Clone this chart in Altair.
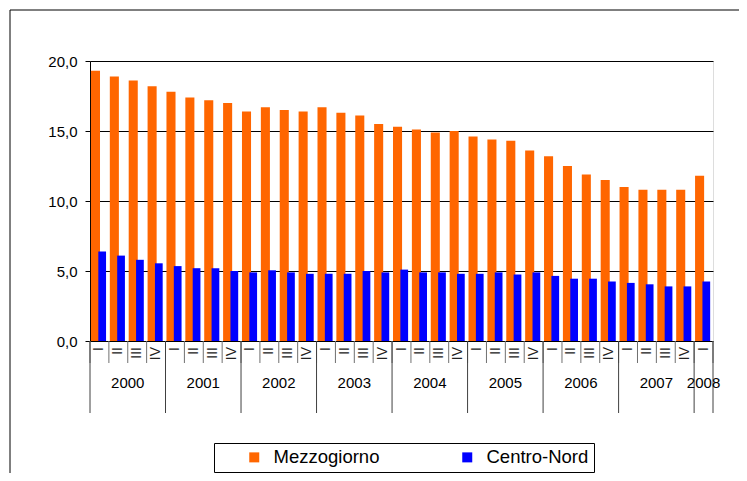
import altair as alt
import pandas as pd

FONT = "Liberation Sans"

quarters = ["I", "II", "III", "IV"] * 8 + ["I"]
years = ["2000", "2001", "2002", "2003", "2004", "2005", "2006", "2007", "2008"]
series_names = ["Mezzogiorno", "Centro-Nord"]
series_colors = ["#FF6600", "#0000FF"]
mezzogiorno = [19.3, 18.9, 18.6, 18.2, 17.8, 17.4, 17.2, 17.0, 16.4, 16.7, 16.5, 16.4,
               16.7, 16.3, 16.1, 15.5, 15.3, 15.1, 14.9, 15.0, 14.6, 14.4,
               14.3, 13.6, 13.2, 12.5, 11.9, 11.5, 11.0, 10.8, 10.8, 10.8, 11.8]
centro_nord = [6.4, 6.1, 5.8, 5.55, 5.35, 5.2, 5.2, 5.0, 4.9, 5.05, 4.9,
               4.8, 4.8, 4.8, 5.0, 4.9, 5.1, 4.9, 4.9, 4.8, 4.8, 4.9,
               4.75, 4.9, 4.65, 4.45, 4.45, 4.25, 4.15, 4.05, 3.9, 3.9, 4.25]
y_ticks = [0, 5, 10, 15, 20]

n = len(quarters)
rows = []
for name, vals in zip(series_names, [mezzogiorno, centro_nord]):
    for i, v in enumerate(vals):
        rows.append({"idx": i, "serie": name, "valore": v})
bars_df = pd.DataFrame(rows)
q_df = pd.DataFrame({"idx": list(range(n)), "q": quarters})
sep_df = pd.DataFrame({"pos": list(range(n + 1))})
year_start = [4 * k for k in range(len(years))]
year_end = [min(4 * k + 4, n) for k in range(len(years))]
yr_df = pd.DataFrame({"anno": years, "start": year_start, "end": year_end})
ysep_df = pd.DataFrame({"pos": year_start + [n]})

xscale = alt.Scale(domain=[0, n], nice=False, zero=False)

bars = alt.Chart(bars_df).transform_calculate(
    x0="datum.idx + (datum.serie == 'Mezzogiorno' ? 0.05 : 0.44)",
    x1="datum.idx + (datum.serie == 'Mezzogiorno' ? 0.53 : 0.85)",
).mark_bar(strokeWidth=0).encode(
    x=alt.X("x0:Q", scale=xscale, axis=None),
    x2="x1:Q",
    y=alt.Y("valore:Q", stack=None, scale=alt.Scale(domain=[0, 20], nice=False),
            axis=alt.Axis(values=y_ticks,
                          labelExpr="replace(format(datum.value, '.1f'), '.', ',')",
                          grid=True, gridColor="black", gridWidth=1, gridOpacity=1,
                          domainColor="black", tickColor="black", tickSize=5,
                          labelFontSize=15, labelFont=FONT, labelColor="black",
                          labelPadding=8, title=None)),
    y2=alt.datum(0),
    color=alt.Color("serie:N",
                    scale=alt.Scale(domain=series_names, range=series_colors),
                    legend=alt.Legend(title=" ", titleOrient="left", titleFontSize=10,
                                      titlePadding=26, orient="none", legendX=124,
                                      legendY=382, direction="horizontal",
                                      symbolType="square", symbolSize=100,
                                      symbolStrokeWidth=0, labelFontSize=18.5,
                                      labelFont=FONT, labelColor="black",
                                      labelOffset=10, columnPadding=78,
                                      strokeColor="black", fillColor="white",
                                      padding=5)),
)

qsep = alt.Chart(sep_df).mark_rule(color="#707070").encode(
    x=alt.X("pos:Q", scale=xscale, axis=None),
    y=alt.value(280), y2=alt.value(302))

ysep = alt.Chart(ysep_df).mark_rule(color="#404040").encode(
    x=alt.X("pos:Q", scale=xscale, axis=None),
    y=alt.value(280), y2=alt.value(352))

qlab = alt.Chart(q_df).transform_calculate(xc="datum.idx + 0.5").mark_text(
    angle=270, align="right", baseline="middle", fontSize=14, font=FONT, color="#222222"
).encode(x=alt.X("xc:Q", scale=xscale, axis=None), y=alt.value(286), text="q:N")

ylab = alt.Chart(yr_df).transform_calculate(xc="(datum.start + datum.end) / 2").mark_text(
    align="center", baseline="middle", fontSize=15, font=FONT, color="black"
).encode(x=alt.X("xc:Q", scale=xscale, axis=None), y=alt.value(322), text="anno:N")

frame_top = alt.Chart(alt.Data(values=[{}])).mark_rule(color="black").encode(
    x=alt.value(-80), x2=alt.value(700), y=alt.value(-51))
frame_left = alt.Chart(alt.Data(values=[{}])).mark_rule(color="black").encode(
    x=alt.value(-80), y=alt.value(-51), y2=alt.value(420))

chart = alt.layer(bars, qsep, ysep, qlab, ylab, frame_top, frame_left).properties(
    width=623, height=280,
    padding={"left": 82, "top": 53, "right": 26, "bottom": 132},
    autosize=alt.AutoSizeParams(type="none"),
).configure_view(stroke="#333333", strokeWidth=1).configure(background="white")

chart.save("out.html", embed_options={"renderer": "svg", "actions": False})
